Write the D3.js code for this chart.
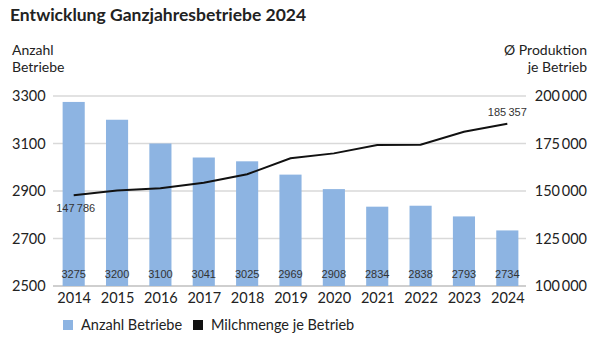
<!DOCTYPE html>
<html><head><meta charset="utf-8">
<script src="https://cdn.jsdelivr.net/npm/d3@7"></script>
<style>body{margin:0;background:#fff}svg{display:block;font-family:"Lato",sans-serif}</style>
</head><body><svg id="c" width="600" height="346"></svg>
<script>
const years = ["2014","2015","2016","2017","2018","2019","2020","2021","2022","2023","2024"];
const betriebe = [3275,3200,3100,3041,3025,2969,2908,2834,2838,2793,2734];
const milch = [147786,150300,151500,154400,158800,167200,169800,174200,174300,181200,185357];
const leftTicks = [2500,2700,2900,3100,3300];
const rightTicks = [100000,125000,150000,175000,200000];

const svg = d3.select("#c");
const F = "Lato";
const LF = "Liberation Sans";
const m = {l:52, r:529, t:96, b:286};
const x = d3.scaleBand().domain(years).range([m.l, m.r]).paddingInner(0.49).paddingOuter(0.245);
const xc = d3.scalePoint().domain(years).range([m.l, m.r]).padding(0.5);
const yL = d3.scaleLinear().domain([2500,3300]).range([m.b, m.t]);
const yR = d3.scaleLinear().domain([100000,200000]).range([m.b, m.t]);
const fmt = v => d3.format(",")(v).replace(/,/g, "\u2009");

svg.append("text").attr("x",10).attr("y",21).text("Entwicklung Ganzjahresbetriebe 2024")
  .attr("font-size",17.5).attr("font-weight",700).attr("fill","#222");

// gridlines
svg.append("g").selectAll("line").data(leftTicks).join("line")
  .attr("x1",m.l+1).attr("x2",m.r-3).attr("y1",d=>yL(d)).attr("y2",d=>yL(d))
  .attr("stroke",d=>d===2500?"#bfbfbf":"#d9d9d9").attr("stroke-width",1.3);

// left axis
const la = svg.append("g").attr("transform",`translate(12,0)`)
  .call(d3.axisLeft(yL).tickValues(leftTicks).tickFormat(d3.format("d")).tickSize(0).tickPadding(0));
la.select(".domain").remove();
la.selectAll("text").attr("text-anchor","start").attr("font-size",14.5).attr("fill","#222").attr("font-family",F);

const ra = svg.append("g").attr("transform",`translate(587,0)`)
  .call(d3.axisRight(yR).tickValues(rightTicks).tickFormat(fmt).tickSize(0).tickPadding(0));
ra.select(".domain").remove();
ra.selectAll("text").attr("text-anchor","end").attr("font-size",14.5).attr("fill","#222").attr("font-family",F);

svg.append("text").attr("x",12).attr("y",55).text("Anzahl").attr("font-size",14).attr("fill","#222");
svg.append("text").attr("x",12).attr("y",72).text("Betriebe").attr("font-size",14).attr("fill","#222");
svg.append("text").attr("x",587).attr("y",55).attr("text-anchor","end").text("Ø Produktion").attr("font-size",14).attr("fill","#222");
svg.append("text").attr("x",587).attr("y",72).attr("text-anchor","end").text("je Betrieb").attr("font-size",14).attr("fill","#222");

// bars
svg.append("g").selectAll("rect").data(years).join("rect")
  .attr("x",d=>x(d)).attr("width",x.bandwidth())
  .attr("y",(d,i)=>yL(betriebe[i])).attr("height",(d,i)=>yL(2500)-yL(betriebe[i]))
  .attr("fill","#8db4e2");

// bar labels
svg.append("g").selectAll("text").data(years).join("text")
  .attr("x",d=>xc(d)).attr("y",278).attr("text-anchor","middle").attr("font-family",LF)
  .attr("font-size",11).attr("fill","#333").text((d,i)=>betriebe[i]);

// x axis
const xa = svg.append("g").attr("transform",`translate(0,${m.b})`)
  .call(d3.axisBottom(xc).tickSize(0).tickPadding(7));
xa.select(".domain").remove();
xa.selectAll("text").attr("font-size",14.5).attr("fill","#222").attr("font-family",F);

// line
const line = d3.line().x((d,i)=>xc(years[i])).y(d=>yR(d));
svg.append("path").datum(milch).attr("d",line).attr("fill","none").attr("stroke","#111").attr("stroke-width",2);

svg.append("text").attr("x",xc(years[0])+2).attr("y",yR(milch[0])+17).attr("text-anchor","middle").attr("font-family",LF)
  .attr("font-size",11).attr("fill","#333").text(fmt(milch[0]));
svg.append("text").attr("x",xc(years[10])).attr("y",yR(milch[10])-8).attr("text-anchor","middle").attr("font-family",LF)
  .attr("font-size",11).attr("fill","#333").text(fmt(milch[10]));

// legend
const lg = svg.append("g");
lg.append("rect").attr("x",63).attr("y",320).attr("width",10).attr("height",10).attr("fill","#8db4e2");
lg.append("text").attr("x",81).attr("y",330).text("Anzahl Betriebe").attr("font-size",14.5).attr("fill","#222");
lg.append("rect").attr("x",193).attr("y",320).attr("width",10).attr("height",10).attr("fill","#111");
lg.append("text").attr("x",211).attr("y",330).text("Milchmenge je Betrieb").attr("font-size",14.5).attr("fill","#222");
</script></body></html>
